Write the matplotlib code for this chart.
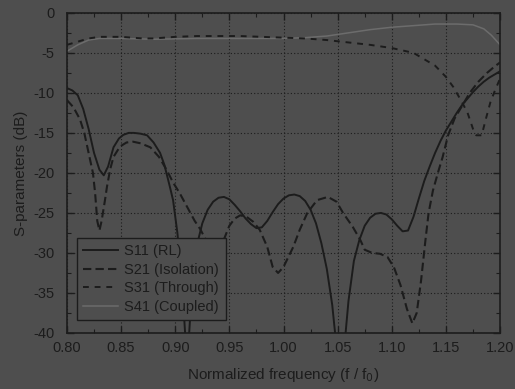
import numpy as np
import matplotlib
matplotlib.use('Agg')
import matplotlib.pyplot as plt
from matplotlib.ticker import MultipleLocator

# values (normalized frequency, dB)
s11_f = [0.800, 0.805, 0.810, 0.815, 0.820, 0.825, 0.830, 0.834, 0.838, 0.843,
         0.848, 0.852, 0.857, 0.862, 0.868, 0.874, 0.880, 0.886, 0.890, 0.895,
         0.898, 0.902, 0.905, 0.908, 0.910, 0.912, 0.914, 0.917, 0.921, 0.925,
         0.930, 0.935, 0.940, 0.945, 0.950, 0.955, 0.960, 0.965, 0.970, 0.975,
         0.980, 0.985, 0.990, 0.995, 1.000, 1.005, 1.010, 1.015, 1.020, 1.025,
         1.030, 1.035, 1.040, 1.045, 1.048, 1.052, 1.057, 1.060, 1.065, 1.070,
         1.075, 1.080, 1.085, 1.090, 1.095, 1.100, 1.105, 1.110, 1.115, 1.120,
         1.125, 1.130, 1.135, 1.140, 1.145, 1.150, 1.155, 1.160, 1.165, 1.170,
         1.175, 1.180, 1.185, 1.190, 1.195, 1.200]
s11_db = [-9.4, -9.7, -10.3, -12.0, -14.5, -17.5, -19.6, -20.3, -19.2, -16.8,
          -15.7, -15.25, -15.0, -15.0, -15.1, -15.3, -16.2, -17.5, -19.0, -21.7,
          -23.4, -27.5, -32.0, -37.5, -42.0, -42.0, -37.5, -32.0, -28.5, -26.3,
          -24.6, -23.6, -23.1, -23.0, -23.3, -24.0, -24.8, -25.7, -26.4, -26.9,
          -26.8, -26.0, -24.9, -23.9, -23.2, -22.8, -22.7, -22.9, -23.5, -24.6,
          -26.3, -28.8, -32.0, -36.5, -40.5, -45.0, -40.5, -36.0, -31.0, -28.4,
          -26.6, -25.6, -25.1, -25.0, -25.2, -25.8, -26.6, -27.3, -27.2, -25.5,
          -23.2, -21.0, -19.2, -17.5, -16.0, -14.7, -13.6, -12.5, -11.5, -10.7,
          -9.9, -9.2, -8.6, -8.1, -7.7, -7.3]

s21_f = [0.800, 0.806, 0.812, 0.816, 0.820, 0.824, 0.826, 0.828, 0.830, 0.832,
         0.835, 0.837, 0.840, 0.843, 0.849, 0.855, 0.861, 0.868, 0.877, 0.885,
         0.892, 0.898, 0.904, 0.910, 0.914, 0.918, 0.923, 0.928, 0.933, 0.937,
         0.941, 0.945, 0.950, 0.955, 0.960, 0.966, 0.972, 0.978, 0.985, 0.990,
         0.995, 1.000, 1.009, 1.015, 1.022, 1.031, 1.041, 1.049, 1.055, 1.064,
         1.071, 1.075, 1.082, 1.089, 1.096, 1.102, 1.108, 1.114, 1.119, 1.123,
         1.127, 1.131, 1.134, 1.138, 1.143, 1.147, 1.152, 1.158, 1.165, 1.172,
         1.180, 1.188, 1.195, 1.200]
s21_db = [-10.9, -11.8, -13.3, -15.0, -17.5, -20.0, -22.5, -26.0, -27.2, -26.0,
          -23.5, -21.7, -19.5, -18.0, -16.7, -16.2, -16.1, -16.3, -16.8, -18.0,
          -19.6, -21.2, -22.5, -24.0, -25.0, -26.0, -27.0, -28.3, -29.5, -30.2,
          -29.9, -28.3, -26.6, -25.7, -25.3, -25.5, -26.1, -27.1, -29.25, -31.75,
          -32.5, -31.75, -29.25, -27.1, -25.0, -23.4, -23.0, -23.6, -25.0, -26.75,
          -28.4, -29.6, -30.0, -30.1, -30.5, -31.8, -34.0, -37.0, -38.8, -37.5,
          -33.5, -28.5, -25.0, -22.2, -19.8, -18.0, -15.3, -13.2, -11.6, -10.0,
          -8.6, -7.5, -6.7, -6.2]

s31_f = [0.800, 0.810, 0.820, 0.830, 0.840, 0.850, 0.860, 0.870, 0.880, 0.890,
         0.900, 0.920, 0.940, 0.960, 0.980, 1.000, 1.020, 1.040, 1.060, 1.080,
         1.100, 1.110, 1.120, 1.130, 1.140, 1.150, 1.157, 1.165, 1.170, 1.175,
         1.178, 1.183, 1.187, 1.191, 1.195, 1.200]
s31_db = [-4.0, -3.6, -3.2, -3.0, -3.0, -3.0, -3.1, -3.2, -3.2, -3.1,
          -3.0, -2.9, -2.9, -2.9, -3.0, -3.1, -3.2, -3.4, -3.7, -4.0,
          -4.4, -4.7, -5.0, -5.8, -6.6, -8.0, -9.3, -11.2, -12.5, -14.5,
          -15.3, -15.3, -13.2, -11.2, -9.8, -8.2]

s41_f = [0.800, 0.810, 0.820, 0.830, 0.850, 0.880, 0.920, 0.960, 1.000, 1.020,
         1.040, 1.060, 1.080, 1.100, 1.120, 1.140, 1.160, 1.175, 1.185, 1.192,
         1.200]
s41_db = [-4.8, -4.0, -3.4, -3.2, -3.2, -3.3, -3.2, -3.2, -3.2, -3.1,
          -2.9, -2.5, -2.1, -1.8, -1.6, -1.4, -1.4, -1.5, -2.0, -2.8,
          -4.0]

labels = ['S11 (RL)', 'S21 (Isolation)', 'S31 (Through)', 'S41 (Coupled)']

bg = '#4e4e4e'
ink = '#1c1c1c'

plt.rcParams['font.family'] = ['Liberation Sans', 'DejaVu Sans']

fig = plt.figure(figsize=(5.15, 3.89), dpi=100, facecolor=bg)
ax = fig.add_axes([0.130, 0.144, 0.841, 0.823], facecolor=bg)

ax.plot(s41_f, s41_db, color='#6c6c6c', lw=1.1, label=labels[3])
ax.plot(s11_f, s11_db, color=ink, lw=1.4, label=labels[0])
ax.plot(s21_f, s21_db, color=ink, lw=1.5, dashes=(4, 2), label=labels[1])
ax.plot(s31_f, s31_db, color=ink, lw=1.4, dashes=(3, 3), label=labels[2])

ax.set_xlim(0.80, 1.20)
ax.set_ylim(-40, 0)
ax.xaxis.set_major_locator(MultipleLocator(0.05))
ax.xaxis.set_minor_locator(MultipleLocator(0.025))
ax.yaxis.set_major_locator(MultipleLocator(5))
ax.yaxis.set_minor_locator(MultipleLocator(2.5))
ax.xaxis.set_major_formatter(plt.FuncFormatter(lambda v, p: f'{v:.2f}'))
ax.yaxis.set_major_formatter(plt.FuncFormatter(lambda v, p: f'{v:.0f}'))

ax.tick_params(which='both', direction='in', top=True, right=True,
               colors=ink, labelcolor=ink, labelsize=10.5)
ax.tick_params(which='major', length=5, width=1)
ax.tick_params(which='minor', length=3, width=0.8)
ax.tick_params(axis='x', which='major', pad=6)
ax.tick_params(axis='y', which='major', pad=9)
for s in ax.spines.values():
    s.set_color(ink)
    s.set_linewidth(1.2)

ax.grid(True, which='major', color=ink, linestyle=(0, (1, 2)), linewidth=0.8)

ax.set_xlabel('Normalized frequency (f / f$_0$)', fontsize=11, color=ink, labelpad=8)
ax.set_ylabel('S-parameters (dB)', fontsize=11, color=ink, labelpad=4)

handles, labs = ax.get_legend_handles_labels()
order = [1, 2, 3, 0]
leg = ax.legend([handles[i] for i in order], [labs[i] for i in order],
                loc='lower left', bbox_to_anchor=(0.023, 0.04), fontsize=10.5,
                frameon=True, fancybox=False, handlelength=2.4, handletextpad=0.4,
                labelspacing=0.3, borderpad=0.45, borderaxespad=0)
leg.get_frame().set_facecolor(bg)
leg.get_frame().set_edgecolor(ink)
leg.get_frame().set_alpha(1)
for t in leg.get_texts():
    t.set_color(ink)

fig.savefig('out.png', dpi=100, facecolor=bg)
